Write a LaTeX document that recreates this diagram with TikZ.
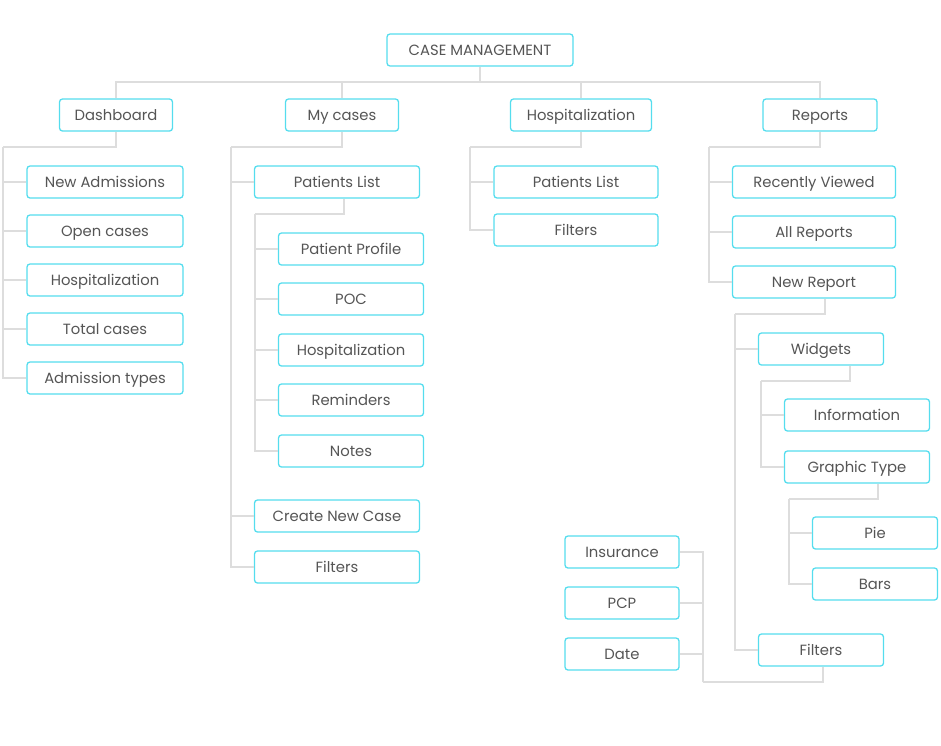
\documentclass[tikz,border=0pt]{standalone}
\usepackage{fontspec}
\setmainfont{Poppins}
\usepackage{tikz}
\usetikzlibrary{positioning,calc}
\definecolor{boxline}{HTML}{55DDEE}
\definecolor{wire}{HTML}{DDDDDD}
\definecolor{label}{HTML}{555555}

\begin{document}
\begin{tikzpicture}[x=1pt,y=-1pt,
    item/.style={draw=boxline,line width=1.3pt,rounded corners=3pt,fill=white,
      minimum height=32pt,inner sep=0pt,text height=14pt,text depth=2.5pt,
      text=label,font=\fontsize{14.8}{16}\selectfont},
    link/.style={draw=wire,line width=1.3pt}]

  \path[use as bounding box] (0,0) rectangle (941,745);

  % top level
  \node[item,minimum width=186pt] (cm)   at (480,50)  {CASE MANAGEMENT};
  \node[item,minimum width=113pt] (dash) at (116,115) {Dashboard};
  \node[item,minimum width=113pt] (myc)  at (342,115) {My cases};
  \node[item,minimum width=141pt] (hosp) at (581,115) {Hospitalization};
  \node[item,minimum width=114pt] (rep)  at (820,115) {Reports};

  % dashboard
  \node[item,minimum width=156pt] (newadm) at (105,182) {New Admissions};
  \node[item,minimum width=156pt] (open)   at (105,231) {Open cases};
  \node[item,minimum width=156pt] (dhosp)  at (105,280) {Hospitalization};
  \node[item,minimum width=156pt] (total)  at (105,329) {Total cases};
  \node[item,minimum width=156pt] (admty)  at (105,378) {Admission types};

  % my cases
  \node[item,minimum width=165pt] (plist)  at (337,182) {Patients List};
  \node[item,minimum width=145pt] (prof)   at (351,249) {Patient Profile};
  \node[item,minimum width=145pt] (poc)    at (351,299) {POC};
  \node[item,minimum width=145pt] (phosp)  at (351,350) {Hospitalization};
  \node[item,minimum width=145pt] (remind) at (351,400) {Reminders};
  \node[item,minimum width=145pt] (notes)  at (351,451) {Notes};
  \node[item,minimum width=165pt] (newcase) at (337,516) {Create New Case};
  \node[item,minimum width=165pt] (mfilt)  at (337,567) {Filters};

  % hospitalization
  \node[item,minimum width=164pt] (hplist) at (576,182) {Patients List};
  \node[item,minimum width=164pt] (hfilt)  at (576,230) {Filters};

  % reports
  \node[item,minimum width=163pt] (recent) at (814,182) {Recently Viewed};
  \node[item,minimum width=163pt] (allrep) at (814,232) {All Reports};
  \node[item,minimum width=163pt] (newrep) at (814,282) {New Report};
  \node[item,minimum width=125pt] (widg)   at (821,349) {Widgets};
  \node[item,minimum width=145pt] (info)   at (857,415) {Information};
  \node[item,minimum width=145pt] (graph)  at (857,467) {Graphic Type};
  \node[item,minimum width=125pt] (pie)    at (875,533) {Pie};
  \node[item,minimum width=125pt] (bars)   at (875,584) {Bars};
  \node[item,minimum width=125pt] (rfilt)  at (821,650) {Filters};
  \node[item,minimum width=114pt] (insur)  at (622,552) {Insurance};
  \node[item,minimum width=114pt] (pcp)    at (622,603) {PCP};
  \node[item,minimum width=114pt] (date)   at (622,654) {Date};

  % bus points
  \coordinate (topbus)  at (480,82);
  \coordinate (dashbus) at (3,147);
  \coordinate (mycbus)  at (231,147);
  \coordinate (plbus)   at (255,214);
  \coordinate (hospbus) at (470,147);
  \coordinate (repbus)  at (709,147);
  \coordinate (nrbus)   at (735,314);
  \coordinate (widbus)  at (761,381);
  \coordinate (grbus)   at (789,499);
  \coordinate (filbus)  at (703,682);

  % connectors
  \path[link] (cm.south) -- (topbus);
  \foreach \n in {dash,myc,hosp,rep}
    \path[link] (topbus) -| (\n.north);
  \path[link] (dash.south) |- (dashbus);
  \foreach \n in {newadm,open,dhosp,total,admty}
    \path[link] (dashbus) |- (\n.west);
  \path[link] (myc.south) |- (mycbus);
  \foreach \n in {plist,newcase,mfilt}
    \path[link] (mycbus) |- (\n.west);
  \path[link] ([xshift=7pt]plist.south) |- (plbus);
  \foreach \n in {prof,poc,phosp,remind,notes}
    \path[link] (plbus) |- (\n.west);
  \path[link] (hosp.south) |- (hospbus);
  \foreach \n in {hplist,hfilt}
    \path[link] (hospbus) |- (\n.west);
  \path[link] (rep.south) |- (repbus);
  \foreach \n in {recent,allrep,newrep}
    \path[link] (repbus) |- (\n.west);
  \path[link] ([xshift=11pt]newrep.south) |- (nrbus);
  \foreach \n in {widg,rfilt}
    \path[link] (nrbus) |- (\n.west);
  \path[link] ([xshift=29pt]widg.south) |- (widbus);
  \foreach \n in {info,graph}
    \path[link] (widbus) |- (\n.west);
  \path[link] ([xshift=21pt]graph.south) |- (grbus);
  \foreach \n in {pie,bars}
    \path[link] (grbus) |- (\n.west);
  \path[link] ([xshift=2pt]rfilt.south) |- (filbus);
  \foreach \n in {insur,pcp,date}
    \path[link] (filbus) |- (\n.east);

\end{tikzpicture}
\end{document}
